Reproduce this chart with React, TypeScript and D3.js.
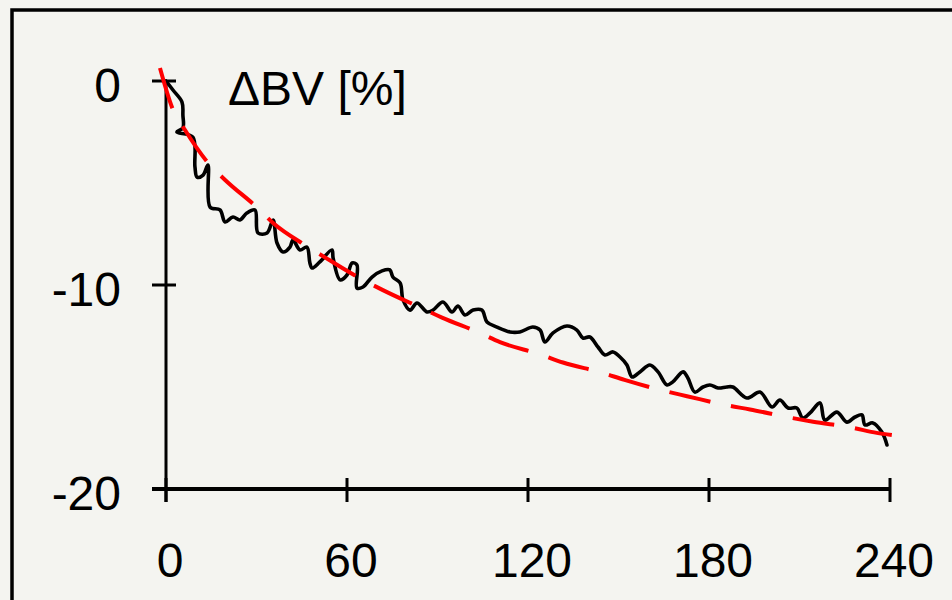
import React from "react";
import * as d3 from "d3";

// measured curve (time in min, change in blood volume %)
const measT = [0, 2.3, 5.3, 5.6, 5.6, 3.6, 8.9, 9.6, 10.3, 12.3, 13.9, 14.6, 17.9, 19.6, 22.2, 24.5, 26.8, 29.5, 30.5, 33.5, 35.5, 36.8, 38.8, 41.1, 42.1, 44.4, 46.7, 47.7, 48.4, 51.0, 55.0, 55.4, 57.7, 60.0, 61.7, 63.3, 63.3, 65.3, 68.3, 71.6, 74.2, 75.2, 77.6, 78.6, 80.9, 83.2, 86.5, 88.5, 91.8, 94.8, 96.8, 99.1, 101.8, 104.7, 106.4, 109.7, 114.0, 117.3, 121.6, 124.0, 125.6, 128.3, 132.9, 136.2, 138.2, 140.5, 143.2, 145.5, 148.2, 150.5, 152.8, 154.5, 157.1, 160.4, 163.1, 166.1, 168.0, 171.4, 173.0, 175.3, 178.0, 180.3, 183.0, 185.9, 187.9, 192.6, 196.9, 200.9, 203.5, 206.2, 209.1, 211.1, 213.5, 216.8, 218.4, 222.4, 225.7, 228.4, 230.7, 231.7, 234.3, 237.3, 239.0];
const measV = [0, -0.44, -1.03, -1.67, -2.3, -2.5, -2.75, -4.22, -4.71, -4.61, -4.12, -6.18, -6.32, -6.91, -6.67, -6.81, -6.47, -6.32, -7.45, -7.45, -6.81, -7.94, -8.38, -8.14, -7.79, -8.28, -8.14, -8.92, -9.17, -8.87, -8.28, -8.68, -9.75, -9.51, -8.92, -9.02, -10.15, -10.1, -9.61, -9.31, -9.26, -9.61, -9.9, -10.74, -11.23, -10.88, -11.32, -11.23, -10.83, -11.32, -11.03, -11.47, -11.23, -11.23, -11.81, -12.06, -12.3, -12.3, -12.06, -12.21, -12.79, -12.35, -12.01, -12.21, -12.6, -12.55, -13.04, -13.43, -13.28, -13.53, -13.92, -14.51, -14.26, -13.92, -14.26, -14.9, -14.75, -14.26, -14.56, -15.25, -15.0, -14.9, -15.05, -15.0, -15.0, -15.54, -15.25, -15.98, -15.64, -16.03, -16.03, -16.52, -16.27, -15.78, -16.62, -16.23, -16.72, -16.47, -16.37, -16.86, -16.76, -17.21, -17.84];

// fitted curve (red dashed)
const fitT = [-2, 2.3, 6.3, 13.9, 19.6, 30.2, 35.5, 46.7, 54.4, 65.3, 71.9, 84.2, 91.5, 104, 110.7, 124, 131.6, 144.5, 152, 165.4, 172.7, 186, 193.6, 206.8, 214.5, 227.7, 235.6, 240.6];
const fitV = [0.64, -1.4, -2.4, -4.0, -4.85, -6.2, -6.96, -8.1, -8.8, -9.75, -10.25, -11.1, -11.6, -12.35, -12.8, -13.4, -13.8, -14.3, -14.65, -15.2, -15.45, -15.9, -16.1, -16.5, -16.7, -17.0, -17.25, -17.35];

const xTicks = [0, 60, 120, 180, 240];
const yTicks = [0, -10, -20];
const yLabel = "ΔBV [%]";

const W = 952;
const H = 600;
const font = "'Liberation Sans', Arial, sans-serif";

export default function App() {
  const x = d3.scaleLinear().domain([0, 240]).range([166, 890]);
  const y = d3.scaleLinear().domain([-20, 0]).range([489, 81]);

  const meas = measT.map((t, i) => [t, measV[i]] as [number, number]);
  const fit = fitT.map((t, i) => [t, fitV[i]] as [number, number]);

  const measLine = d3
    .line<[number, number]>()
    .x((d) => x(d[0]))
    .y((d) => y(d[1]))
    .curve(d3.curveCatmullRom.alpha(0.5));
  const fitLine = d3
    .line<[number, number]>()
    .x((d) => x(d[0]))
    .y((d) => y(d[1]))
    .curve(d3.curveMonotoneX);

  const x0 = x(0);
  const yBase = y(-20);

  return (
    <svg
      width={W}
      height={H}
      viewBox={`0 0 ${W} ${H}`}
      style={{ position: "absolute", left: 0, top: 0, display: "block" }}
    >
      <rect x={0} y={0} width={W} height={H} fill="#f4f4f0" />
      <rect x={12} y={10} width={1000} height={700} fill="none" stroke="#000" strokeWidth={3.5} />

      {/* axes */}
      <line x1={x0} x2={x0} y1={y(0)} y2={yBase + 13} stroke="#000" strokeWidth={3} />
      <line x1={x0 - 14} x2={x(240)} y1={yBase} y2={yBase} stroke="#000" strokeWidth={4} />
      {yTicks.map((v) => (
        <g key={v}>
          <line x1={x0 - 14} x2={x0 + 10} y1={y(v)} y2={y(v)} stroke="#000" strokeWidth={3} />
          <text
            x={121}
            y={y(v) + 21}
            textAnchor="end"
            fontFamily={font}
            fontSize={48}
            fill="#000"
          >
            {v}
          </text>
        </g>
      ))}
      {xTicks.map((t) => (
        <g key={t}>
          <line x1={x(t)} x2={x(t)} y1={yBase - 11} y2={yBase + 13} stroke="#000" strokeWidth={3} />
          <text
            x={x(t) + 4}
            y={577}
            textAnchor="middle"
            fontFamily={font}
            fontSize={48}
            fill="#000"
          >
            {t}
          </text>
        </g>
      ))}

      <text x={228} y={105} fontFamily={font} fontSize={48} fill="#000">
        {yLabel}
      </text>

      <path
        d={measLine(meas) || ""}
        fill="none"
        stroke="#000"
        strokeWidth={3.6}
        strokeLinejoin="round"
        strokeLinecap="round"
      />
      <path
        d={fitLine(fit) || ""}
        fill="none"
        stroke="#ff0000"
        strokeWidth={4}
        strokeDasharray="42 21"
      />
    </svg>
  );
}
